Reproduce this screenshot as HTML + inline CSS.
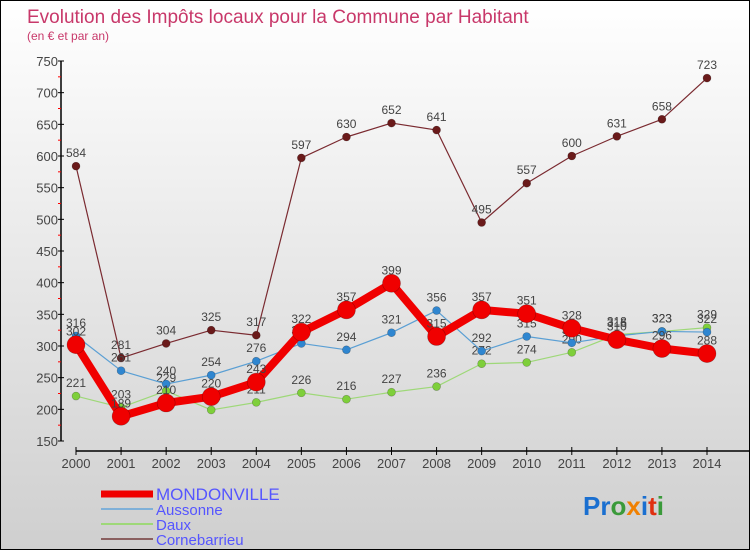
<!DOCTYPE html>
<html><head><meta charset="utf-8"><style>
html,body{margin:0;padding:0}
body{width:750px;height:550px;overflow:hidden;font-family:"Liberation Sans",sans-serif}
#wrap{position:relative;width:748px;height:548px;border:1px solid #000;background:linear-gradient(#fff,#cfcfcf)}
svg{position:absolute;left:0;top:0}
</style></head><body>
<div id="wrap">
<svg id="chart" width="750" height="550">
<text x="26" y="22" font-size="19" fill="#c8386a">Evolution des Impôts locaux pour la Commune par Habitant</text>
<text x="26" y="39" font-size="12" fill="#c8386a">(en € et par an)</text>
<g id="axes"></g>
<g id="series"></g>
<g id="legend"></g>
<text x="582" y="514" font-size="26" font-weight="bold"><tspan fill="#1a6fd0">Pr</tspan><tspan fill="#3a9a3a">o</tspan><tspan fill="#f08000">x</tspan><tspan fill="#1a6fd0">i</tspan><tspan fill="#e03010">t</tspan><tspan fill="#3a9a3a">i</tspan></text>
</svg>
</div>
<script>
const years=[2000,2001,2002,2003,2004,2005,2006,2007,2008,2009,2010,2011,2012,2013,2014];
const yTicks=[150,200,250,300,350,400,450,500,550,600,650,700,750];
const mondonville=[302,189,210,220,243,322,357,399,315,357,351,328,310,296,288];
const aussonne=[316,261,240,254,276,304,294,321,356,292,315,305,316,323,322];
const daux=[221,203,229,199,211,226,216,227,236,272,274,290,318,323,329];
const cornebarrieu=[584,281,304,325,317,597,630,652,641,495,557,600,631,658,723];
const NS='http://www.w3.org/2000/svg';
function xs(i){return 75+i*(706-75)/(years.length-1);}
function ys(v){return 440-(v-150)*(380/600);}
function mk(tag,attrs,parent){const e=document.createElementNS(NS,tag);for(const k in attrs)e.setAttribute(k,attrs[k]);parent.appendChild(e);return e;}
const axes=document.getElementById('axes');
let ya=mk('line',{x1:60,y1:60,x2:60,y2:440,stroke:'#000','stroke-width':1.5},axes);


yTicks.forEach((t,k)=>{
  mk('line',{x1:57,y1:ys(t),x2:63,y2:ys(t),stroke:'#000'},axes);
  if(k<yTicks.length-1)mk('line',{x1:57,y1:ys(t+25),x2:60,y2:ys(t+25),stroke:'#f00'},axes);
  const tx=mk('text',{x:57,y:ys(t)+5,'font-size':13,fill:'#444','text-anchor':'end'},axes);
  tx.textContent=t;
  
  
});
let xa=mk('line',{x1:75,y1:450,x2:750,y2:450,stroke:'#000','stroke-width':1.5},axes);


years.forEach((y,i)=>{
  mk('line',{x1:xs(i),y1:446,x2:xs(i),y2:454,stroke:'#000'},axes);
  const tx=mk('text',{x:xs(i),y:467,'font-size':13,fill:'#444','text-anchor':'middle'},axes);
  tx.textContent=y;
  
  
});
const seriesG=document.getElementById('series');
const defs=[
 {name:'cornebarrieu',data:cornebarrieu,line:'#7a2a30',dot:'#6a1a1a',w:1.2,r:4},
 {name:'daux',data:daux,line:'#9ed878',dot:'#7ecf3a',w:1.2,r:4},
 {name:'aussonne',data:aussonne,line:'#5a9fd4',dot:'#2f86d0',w:1.2,r:4},
 {name:'mondonville',data:mondonville,line:'#f00000',dot:'#f00000',w:8,r:9}
];
defs.forEach(s=>{
  const g=mk('g',{},seriesG);
  
  
  const p=mk('polyline',{points:s.data.map((v,i)=>xs(i)+','+ys(v)).join(' '),fill:'none',stroke:s.line,'stroke-width':s.w,'stroke-linejoin':'round'},g);
  
  
  s.data.forEach((v,i)=>{
    const c=mk('circle',{cx:xs(i),cy:ys(v),r:s.r,fill:s.dot,stroke:'rgba(0,0,0,0.3)','stroke-width':0.6},g);
    
    
    const t=mk('text',{x:xs(i),y:ys(v)-9,'font-size':12,fill:'#444','text-anchor':'middle'},g);
    t.textContent=v;
    
    
  });
});
const leg=document.getElementById('legend');
const legItems=[['MONDONVILLE','#f00000',7,17,493],['Aussonne','#7fb0d8',2,15,508],['Daux','#9ed878',2,15,523],['Cornebarrieu','#8a6060',2,15,538]];
legItems.forEach(l=>{
  const g=mk('g',{},leg);
  
  
  mk('line',{x1:100,y1:l[4],x2:152,y2:l[4],stroke:l[1],'stroke-width':l[2]},g);
  const t=mk('text',{x:155,y:l[4]+6,'font-size':l[3],fill:'#5555ff'},g);
  t.textContent=l[0];
});
</script>
</body></html>
